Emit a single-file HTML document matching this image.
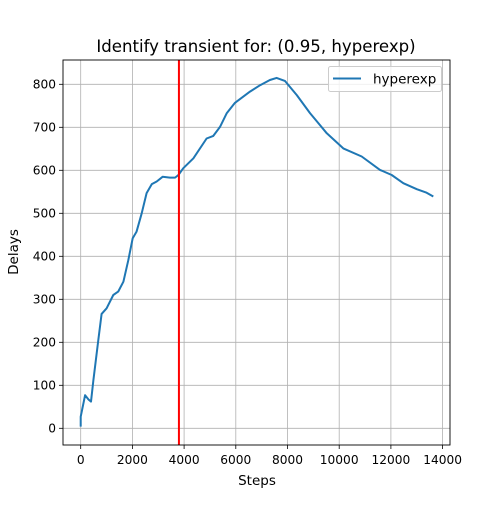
<!DOCTYPE html>
<html><head><meta charset="utf-8"><style>
body{margin:0;background:#fff}
svg{font-family:"DejaVu Sans","Liberation Sans",sans-serif}
</style></head><body>
<svg id="chart" width="500" height="500">
<rect x="0" y="0" width="500" height="500" fill="#fff"/>
<text x="256" y="52" text-anchor="middle" font-size="16.6">Identify transient for: (0.95, hyperexp)</text>
<g id="grid"></g>
<g id="ticks"></g>
<path id="line" fill="none" stroke="#1f77b4" stroke-width="2" stroke-linejoin="round"/>
<line id="redline" y1="60" y2="445" stroke="red" stroke-width="2"/>
<rect x="63" y="60" width="387" height="385" fill="none" stroke="#000" stroke-width="0.9"/>
<text x="257" y="485" text-anchor="middle" font-size="13.5">Steps</text>
<text x="18" y="252" text-anchor="middle" font-size="13.5" transform="rotate(-90 18 252)">Delays</text>
<g>
<rect x="328.5" y="66.5" width="113" height="25" fill="#fff" fill-opacity="0.8" stroke="#ccc" rx="2"/>
<line x1="333" y1="78.5" x2="361" y2="78.5" stroke="#1f77b4" stroke-width="2"/>
<text x="373" y="83.5" font-size="13.5">hyperexp</text>
</g>
</svg>
<script>
const steps=[0,0,170,300,400,490,680,810,1000,1260,1450,1650,1840,2010,2160,2360,2550,2750,2940,3170,3450,3650,3780,3970,4360,4870,5130,5390,5650,5970,6550,6940,7320,7580,7900,8360,8870,9520,10160,10870,11580,12030,12480,13000,13380,13640];
const delays=[4,27,77,67,62,112,205,266,279,310,318,341,391,442,457,500,547,568,574,585,583,583,589,605,628,674,680,701,733,757,783,798,810,815,808,775,733,686,651,632,601,589,570,556,548,539];
const xTicks=[0,2000,4000,6000,8000,10000,12000,14000];
const yTicks=[0,100,200,300,400,500,600,700,800];
const transientStep=3800;
const X=v=>80.7+v*0.025850;
const Y=v=>428.3-v*0.43;
const NS="http://www.w3.org/2000/svg";
const grid=document.getElementById('grid'),ticks=document.getElementById('ticks');
function mk(tag,attrs,parent){const e=document.createElementNS(NS,tag);for(const k in attrs)e.setAttribute(k,attrs[k]);parent.appendChild(e);return e;}
xTicks.forEach(t=>{const x=X(t);
const g=mk('line',{x1:x,x2:x,y1:60,y2:445,stroke:'#b0b0b0','stroke-width':0.8},grid);


mk('line',{x1:x,x2:x,y1:445,y2:449,stroke:'#000','stroke-width':0.8},ticks);
const l=mk('text',{x:x,y:464,'text-anchor':'middle','font-size':12.2},ticks);l.textContent=t;

});
yTicks.forEach(t=>{const y=Y(t);
const g=mk('line',{x1:63,x2:450,y1:y,y2:y,stroke:'#b0b0b0','stroke-width':0.8},grid);


mk('line',{x1:59,x2:63,y1:y,y2:y,stroke:'#000','stroke-width':0.8},ticks);
const l=mk('text',{x:56,y:y+4.3,'text-anchor':'end','font-size':12.2},ticks);l.textContent=t;

});
document.getElementById('line').setAttribute('d',steps.map((s,i)=>(i?'L':'M')+X(s).toFixed(1)+','+Y(delays[i]).toFixed(1)).join(''));
const r=document.getElementById('redline');r.setAttribute('x1',X(transientStep));r.setAttribute('x2',X(transientStep));
</script>
</body></html>
